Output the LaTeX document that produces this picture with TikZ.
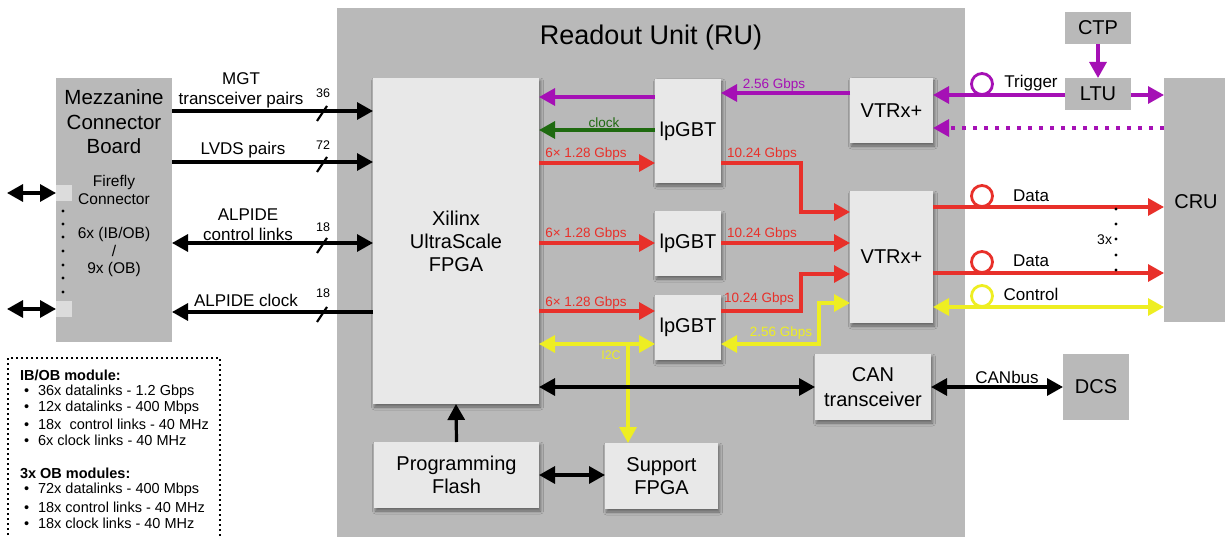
\documentclass[tikz,border=0pt]{standalone}
\usepackage{fontspec}
\setmainfont{Liberation Sans}
\usetikzlibrary{arrows.meta,shadows.blur,calc}

\definecolor{rugray}{HTML}{B9B9B9}
\definecolor{boxlight}{HTML}{E8E8E8}
\definecolor{ffgray}{HTML}{DCDCDC}
\definecolor{sigpurple}{HTML}{A510B5}
\definecolor{sigred}{HTML}{E8302A}
\definecolor{sigyellow}{HTML}{EEEE22}
\definecolor{siggreen}{HTML}{1F6A10}

\tikzset{
  every node/.style={inner sep=0pt, outer sep=0pt, align=center, font=\fontsize{20}{23}\selectfont},
  chip/.style={fill=boxlight, blur shadow={shadow xshift=1.5pt, shadow yshift=-3pt, shadow blur radius=3pt, shadow opacity=45}},
  graybox/.style={fill=rugray},
  link/.style={line width=3.2pt, -{Triangle[length=16pt,width=17pt]}},
  blink/.style={line width=3.2pt, {Triangle[length=16pt,width=17pt]}-{Triangle[length=16pt,width=17pt]}},
  lbl/.style={font=\fontsize{17}{20}\selectfont},
  rate/.style={font=\fontsize{13.5}{15}\selectfont},
  cnt/.style={font=\fontsize{12.5}{13}\selectfont},
  slash/.style={line width=2.2pt},
  ring/.style={line width=2.8pt, radius=10.5pt},
  legend/.style={anchor=west, align=left, font=\fontsize{14.5}{16}\selectfont},
}

\begin{document}
\begin{tikzpicture}[x=1pt,y=-1pt]
\useasboundingbox[fill=white] (0,0) rectangle (1225,537);
\clip (0,0) rectangle (1225,537);

% ---------- Readout Unit frame ----------
\node[graybox, minimum width=628pt, minimum height=540pt] (ru) at (651,278) {};
\node[font=\fontsize{27}{30}\selectfont] (rutitle) at (651,38) {Readout Unit (RU)};

% ---------- Mezzanine connector board ----------
\node[graybox, minimum width=116pt, minimum height=264pt] (mcb) at (114,210) {};
\node[font=\fontsize{20.5}{24.5}\selectfont] (mcbtitle) at (114,122) {Mezzanine\\Connector\\Board};
\node[fill=ffgray, minimum width=16pt, minimum height=16pt] (ff1) at (64,193) {};
\node[fill=ffgray, minimum width=16pt, minimum height=16pt] (ff2) at (64,309) {};
\node[font=\fontsize{15.5}{18}\selectfont] (fftext) at (114,190) {Firefly\\Connector};
\node[font=\fontsize{15.5}{17.5}\selectfont] (ffcount) at (114,252) {6x (IB/OB)\\/\\9x (OB)};
\foreach \yy in {211,224,237,251,265,278,292}
  \fill (63,\yy) circle (1.6pt);
\coordinate (ext1) at (7,193);
\coordinate (ext2) at (7,309);
\draw[blink] (ext1) -- (ff1.west);
\draw[blink] (ext2) -- (ff2.west);

% ---------- main blocks ----------
\node[chip, minimum width=166pt, minimum height=326pt] (fpga) at (456,241) {Xilinx\\UltraScale\\FPGA};
\node[chip, minimum width=66pt, minimum height=104pt] (gbt1) at (688,131) {lpGBT};
\node[chip, minimum width=66pt, minimum height=65pt] (gbt2) at (688,243.5) {lpGBT};
\node[chip, minimum width=66pt, minimum height=65pt] (gbt3) at (688,327.5) {lpGBT};
\node[chip, minimum width=83pt, minimum height=65pt] (vtr1) at (891.5,110.5) {VTRx+};
\node[chip, minimum width=83pt, minimum height=132pt] (vtr2) at (891.5,257) {VTRx+};
\node[chip, minimum width=116pt, minimum height=66pt, font=\fontsize{20}{25}\selectfont] (can) at (873,387) {CAN\\transceiver};
\node[chip, minimum width=165pt, minimum height=66pt] (flash) at (456.5,475) {Programming\\Flash};
\node[chip, minimum width=113pt, minimum height=66pt] (sup) at (661.5,476) {Support\\FPGA};

% ---------- external systems ----------
\node[graybox, minimum width=66pt, minimum height=32pt] (ctp) at (1098,28) {CTP};
\node[graybox, minimum width=66pt, minimum height=32pt] (ltu) at (1098,94) {LTU};
\node[graybox, minimum width=62pt, minimum height=244pt] (cru) at (1195,200) {};
\node (crutext) at (1196,202) {CRU};
\node[graybox, minimum width=66pt, minimum height=66pt] (dcs) at (1096,387) {DCS};

% ---------- mezzanine <-> FPGA ----------
\draw[link] (mcb.east |- 0,111) -- (fpga.west |- 0,111);
\draw[link] (mcb.east |- 0,162) -- (fpga.west |- 0,162);
\draw[blink] (mcb.east |- 0,243) -- (fpga.west |- 0,243);
\draw[link] (fpga.west |- 0,312) -- (mcb.east |- 0,312);
\foreach \yy in {111,162,243,312}
  \draw[slash] (317,\yy+10) -- (327,\yy-5);
\node[lbl] (mgt) at (241,90) {MGT\\transceiver pairs};
\node[lbl] (lvds) at (243,150) {LVDS pairs};
\node[lbl] (actl) at (248,225) {ALPIDE\\control links};
\node[lbl] (aclk) at (246,300) {ALPIDE clock};
\node[cnt] (n36) at (323,93) {36};
\node[cnt] (n72) at (323,145) {72};
\node[cnt] (n18a) at (323,227) {18};
\node[cnt] (n18b) at (323,293) {18};

% ---------- lpGBT / VTRx links ----------
\draw[link, sigpurple] (vtr1.west |- 0,93) -- (gbt1.east |- 0,93);
\node[rate, text=sigpurple] (r256a) at (774,85) {2.56 Gbps};
\draw[link, sigpurple] (gbt1.west |- 0,97) -- (fpga.east |- 0,97);
\draw[link, siggreen] (gbt1.west |- 0,130) -- (fpga.east |- 0,130);
\node[rate, text=siggreen] (clk) at (604,123) {clock};

\draw[link, sigred] (fpga.east |- 0,163) -- (gbt1.west |- 0,163);
\node[rate, text=sigred] (r128a) at (586,154) {6× 1.28 Gbps};
\draw[link, sigred] (gbt1.east |- 0,163) -- (801,163) |- (vtr2.west |- 0,212);
\node[rate, text=sigred] (r1024a) at (762,154) {10.24 Gbps};

\draw[link, sigred] (fpga.east |- 0,243) -- (gbt2.west |- 0,243);
\node[rate, text=sigred] (r128b) at (586,234) {6× 1.28 Gbps};
\draw[link, sigred] (gbt2.east |- 0,243) -- (vtr2.west |- 0,243);
\node[rate, text=sigred] (r1024b) at (762,234) {10.24 Gbps};

\draw[link, sigred] (fpga.east |- 0,311) -- (gbt3.west |- 0,311);
\node[rate, text=sigred] (r128c) at (586,303) {6× 1.28 Gbps};
\draw[link, sigred] (gbt3.east |- 0,311) -- (801,311) |- (vtr2.west |- 0,274);
\node[rate, text=sigred] (r1024c) at (759,299) {10.24 Gbps};

\draw[blink, sigyellow] (gbt3.east |- 0,344) -- (819,344) |- (vtr2.west |- 0,303);
\node[rate, text=sigyellow] (r256b) at (781,333) {2.56 Gbps};
\draw[blink, sigyellow] (fpga.east |- 0,344) -- (gbt3.west |- 0,344);
\coordinate (i2cjoin) at (628,344);
\draw[link, sigyellow] (i2cjoin) -- (sup.north -| i2cjoin);
\node[cnt, text=sigyellow] (i2c) at (611,355) {I2C};

% ---------- slow control and configuration ----------
\draw[blink] (fpga.east |- 0,387) -- (can.west);
\draw[blink] (can.east) -- (dcs.west);
\node[lbl] (canbus) at (1007,377) {CANbus};
\draw[link] (flash.north) -- (fpga.south);
\draw[blink] (flash.east |- 0,475) -- (sup.west |- 0,475);

% ---------- trigger, data and control fibres ----------
\draw[link, sigpurple] (ctp.south) -- (ltu.north);
\draw[link, sigpurple] (ltu.west |- 0,95) -- (vtr1.east |- 0,95);
\draw[link, sigpurple] (ltu.east |- 0,95) -- (cru.west |- 0,95);
\draw[sigpurple, ring] (982,84) circle;
\node[lbl] (trig) at (1031,83) {Trigger};
\draw[link, sigpurple, dash pattern=on 4pt off 7pt] (cru.west |- 0,128) -- (vtr1.east |- 0,128);

\draw[link, sigred] (vtr2.east |- 0,207) -- (cru.west |- 0,207);
\draw[sigred, ring] (982,196) circle;
\node[lbl] (data1) at (1031,196) {Data};
\draw[link, sigred] (vtr2.east |- 0,273) -- (cru.west |- 0,273);
\draw[sigred, ring] (982,262) circle;
\node[lbl] (data2) at (1031,261) {Data};
\draw[blink, sigyellow] (vtr2.east |- 0,307) -- (cru.west |- 0,307);
\draw[sigyellow, ring] (982,296) circle;
\node[lbl] (ctrl) at (1031,294) {Control};
\foreach \yy in {209,224,239,255,270}
  \fill (1116,\yy) circle (1.6pt);
\node[font=\fontsize{14}{15}\selectfont, anchor=east] (three) at (1112,240) {3x};

% ---------- module summary ----------
\draw[line width=1.5pt, dash pattern=on 2pt off 3pt] (8,545) |- (220,358) -- (220,545);
\node[legend, font=\fontsize{14.5}{16}\selectfont\bfseries] (ibob) at (20,375) {IB/OB module:};
\node[legend] (l1) at (24,392) {\textbullet\hspace{9pt}36x datalinks - 1.2 Gbps};
\node[legend] (l2) at (24,408) {\textbullet\hspace{9pt}12x datalinks - 400 Mbps};
\node[legend] (l3) at (24,424) {\textbullet\hspace{9pt}18x\ \ control links - 40 MHz};
\node[legend] (l4) at (24,440) {\textbullet\hspace{9pt}6x clock links - 40 MHz};
\node[legend, font=\fontsize{14.5}{16}\selectfont\bfseries] (ob) at (20,473) {3x OB modules:};
\node[legend] (l5) at (24,490) {\textbullet\hspace{9pt}72x datalinks - 400 Mbps};
\node[legend] (l6) at (24,507) {\textbullet\hspace{9pt}18x control links - 40 MHz};
\node[legend] (l7) at (24,523) {\textbullet\hspace{9pt}18x clock links - 40 MHz};
\end{tikzpicture}
\end{document}
